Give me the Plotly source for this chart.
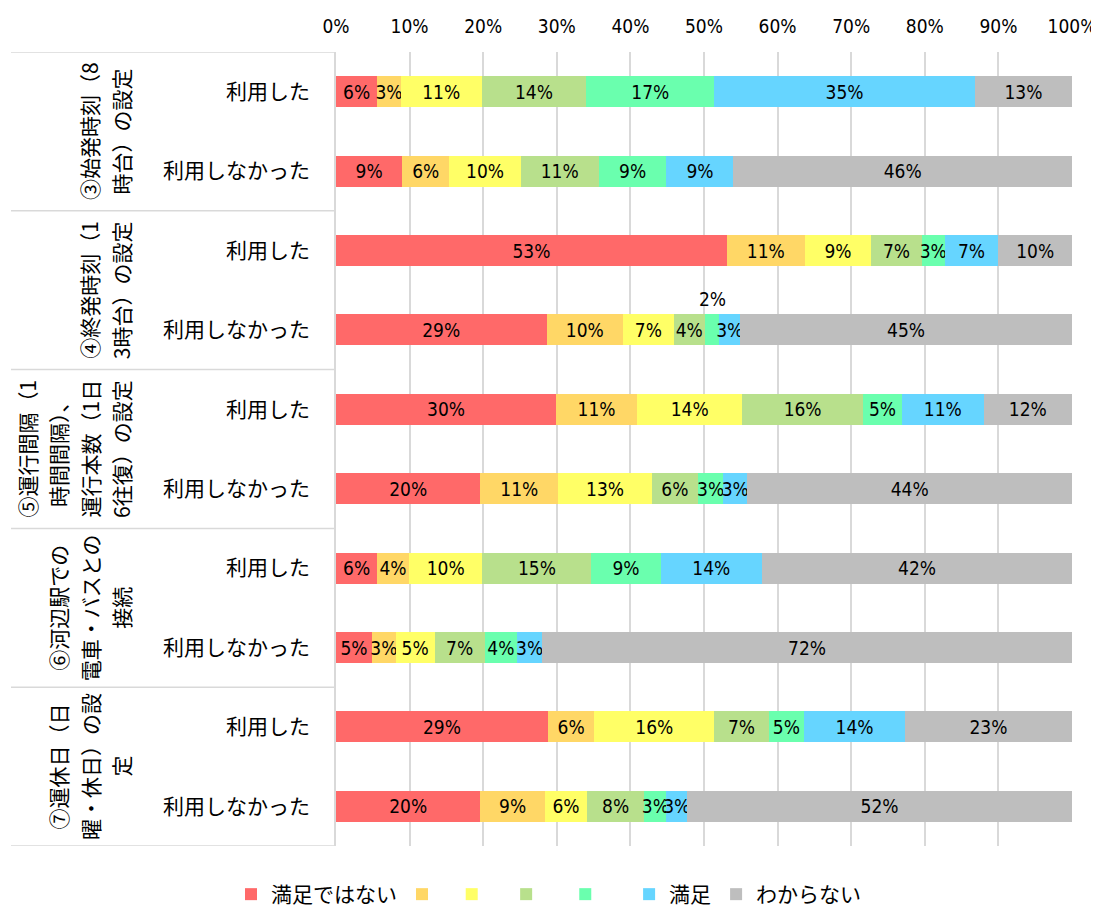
import plotly.graph_objects as go

# ---- data ----
row_labels = ["利用した", "利用しなかった"] * 5
group_labels = [
    ["③始発時刻（8", "時台）の設定"],
    ["④終発時刻（1", "3時台）の設定"],
    ["⑤運行間隔（1", "時間間隔）、", "運行本数（1日", "6往復）の設定"],
    ["⑥河辺駅での", "電車・バスとの", "接続"],
    ["⑦運休日（日", "曜・休日）の設", "定"],
]
series_names = ["満足ではない", " ", "  ", "   ", "    ", "満足", "わからない"]
series_colors = ["#FF6969", "#FFD766", "#FFFF66", "#B8E08C", "#6AFFAE", "#66D5FF", "#BEBEBE"]

s1 = [5.6, 9.0, 53.1, 28.6, 29.9, 19.6, 5.6, 4.9, 28.8, 19.6]
s2 = [3.2, 6.4, 10.6, 10.4, 11.0, 10.6, 4.3, 3.2, 6.3, 8.8]
s3 = [11.0, 9.7, 9.0, 6.9, 14.3, 12.7, 10.0, 5.3, 16.3, 5.7]
s4 = [14.2, 10.6, 6.9, 4.2, 16.4, 6.3, 14.8, 6.8, 7.4, 7.8]
s5 = [17.4, 9.2, 3.1, 2.0, 5.3, 3.4, 9.4, 4.4, 4.8, 3.0]
s6 = [35.4, 9.1, 7.3, 2.8, 11.1, 3.3, 13.8, 3.4, 13.7, 2.8]
s7 = [13.2, 46.0, 10.0, 45.1, 12.0, 44.1, 42.1, 72.0, 22.7, 52.3]
series_values = [s1, s2, s3, s4, s5, s6, s7]

x_ticks = list(range(0, 101, 10))

# labels drawn above the bar instead of inside: (series index, row index)
outside_labels = [(4, 3)]

# ---- layout constants (pixels, page has an 8px body margin) ----
W, H = 1091, 898
L, R, T, B = 328, 27, 44, 60
pw = W - L - R
ph = H - T - B

def px_to_paper_x(px_page):
    return (px_page - 8 - L) / pw

num_font = "DejaVu Sans Condensed, Roboto Condensed, Liberation Sans Narrow, Roboto, sans-serif"
jp_font = "Noto Sans CJK JP, sans-serif"

ypos = list(range(len(row_labels)))

fig = go.Figure()
for si, (name, color, vals) in enumerate(zip(series_names, series_colors, series_values)):
    texts = []
    for ri, v in enumerate(vals):
        if (si, ri) in outside_labels:
            texts.append("")
        else:
            texts.append(f"{round(v)}%")
    fig.add_trace(go.Bar(
        y=ypos, x=vals, orientation="h", name=name,
        marker=dict(color=color, line=dict(width=0)),
        width=0.39,
        text=texts, textposition="inside", insidetextanchor="middle", textangle=0,
        textfont=dict(family=num_font, size=19, color="black"),
        hoverinfo="skip",
    ))

annotations = []
for si, ri in outside_labels:
    left = sum(series_values[k][ri] for k in range(si))
    mid = left + series_values[si][ri] / 2
    annotations.append(dict(
        x=mid, y=ri - 0.39, xref="x", yref="y", text=f"{round(series_values[si][ri])}%",
        showarrow=False, font=dict(family=num_font, size=19, color="black"),
        xanchor="center", yanchor="middle",
    ))

# group labels (rotated, one annotation per column)
last_col_px = 121
col_gap = 31.5
for gi, lines in enumerate(group_labels):
    yc = gi * 2 + 0.5
    n = len(lines)
    for li, line in enumerate(lines):
        xpx = last_col_px - (n - 1 - li) * col_gap
        annotations.append(dict(
            x=px_to_paper_x(xpx), y=yc, xref="paper", yref="y", text=line,
            textangle=-90, showarrow=False, xanchor="center", yanchor="middle",
            font=dict(family=jp_font, size=21, color="black"),
        ))

shapes = []
for b in [-0.5, 1.5, 3.5, 5.5, 7.5, 9.5]:
    shapes.append(dict(type="line", xref="paper", yref="y",
                       x0=px_to_paper_x(11), x1=px_to_paper_x(334), y0=b, y1=b,
                       line=dict(color="#D9D9D9", width=1.5)))

fig.update_layout(
    width=W, height=H,
    barmode="stack",
    plot_bgcolor="white", paper_bgcolor="white",
    margin=dict(l=L, r=R, t=T, b=B, autoexpand=False),
    font=dict(family=jp_font, size=21, color="black"),
    uniformtext=dict(minsize=19, mode="show"),
    xaxis=dict(
        range=[0, 100], side="top", tickvals=x_ticks,
        ticktext=[f"{v}%" for v in x_ticks],
        tickfont=dict(family=num_font, size=19, color="black"),
        ticklabelstandoff=14,
        showgrid=True, gridcolor="#D9D9D9", gridwidth=1.5,
        zeroline=False, showline=False, ticks="", fixedrange=True,
    ),
    yaxis=dict(
        range=[9.5, -0.5], tickvals=ypos, ticktext=row_labels,
        tickfont=dict(family=jp_font, size=21, color="black"),
        showgrid=False, zeroline=False,
        showline=True, linecolor="#D9D9D9", linewidth=1.5,
        ticks="outside", ticklen=20, tickcolor="rgba(0,0,0,0)",
        fixedrange=True,
    ),
    legend=dict(
        orientation="h", x=px_to_paper_x(549), xanchor="center",
        y=-28 / ph, yanchor="top",
        font=dict(family=jp_font, size=21, color="black"),
        traceorder="normal",
    ),
    showlegend=True,
    annotations=annotations,
    shapes=shapes,
)

fig.write_html("out.html")
